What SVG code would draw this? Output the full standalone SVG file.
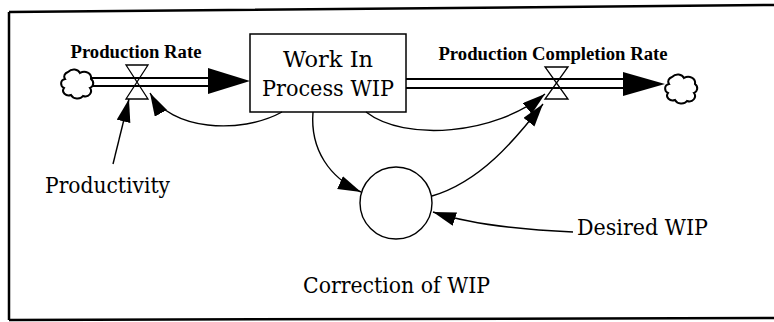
<svg xmlns="http://www.w3.org/2000/svg" width="774" height="322" viewBox="0 0 774 322">
<style>
.frame{fill:none;stroke:#000;stroke-width:2.5}
.stock{fill:#fff;stroke:#000;stroke-width:1.5}
.pipe{fill:none;stroke:#000;stroke-width:1.8}
.valve{fill:none;stroke:#000;stroke-width:1.3;stroke-linejoin:miter}
.cloud{fill:#fff;stroke:#000;stroke-width:2}
.link{fill:none;stroke:#000;stroke-width:1.4}
.aux{fill:#fff;stroke:#000;stroke-width:1.4}
text{fill:#000}
.big{font-family:"DejaVu Serif",serif;font-size:22px;font-weight:normal}
.flowlbl{font-family:"Liberation Serif","Times New Roman",serif;font-size:18.7px;font-weight:bold}
</style>
<defs>
<marker id="ah" markerUnits="userSpaceOnUse" markerWidth="24" markerHeight="16" refX="23" refY="7" orient="auto">
<path d="M0,0 L23,7 L0,14 Z" fill="#000"/>
</marker>
<path id="cloudShape" d="M-9,-11 c4,-4 10,-3 12,1 c5,-3 12,0 11,6 c4,3 2,8 -1,9 c3,4 -1,10 -7,8 c-3,4 -10,3 -12,-1 c-5,2 -10,-3 -7,-7 c-4,-2 -4,-8 1,-9 c-2,-3 0,-6 3,-7z"/>
</defs>
<rect width="774" height="322" fill="#fff"/>
<g id="frame">
<path class="frame" d="M9,12 L774,5 M9,12 L9,320 M9,320 L774,318"/>
</g>
<g id="source-cloud">
<use href="#cloudShape" class="cloud" transform="translate(77,83)"/>
</g>
<g id="sink-cloud">
<use href="#cloudShape" class="cloud" transform="translate(681,88)"/>
</g>
<g id="flows">
<path class="pipe" d="M92,78 H212 M92,86 H212"/>
<path d="M208,68 L250,81 L208,94 Z" fill="#000"/>
<path class="pipe" d="M406,79 H627 M406,88 H627"/>
<path d="M623,72 L665,84 L623,96 Z" fill="#000"/>
</g>
<g id="production-rate">
<path class="valve" d="M126,65 L148,65 L126,99 L148,99 Z"/>
<text class="flowlbl" x="136" y="58" text-anchor="middle">Production Rate</text>
</g>
<g id="production-completion-rate">
<path class="valve" d="M545,67 L568,67 L545,99 L568,99 Z"/>
<text class="flowlbl" x="553" y="60" text-anchor="middle">Production Completion Rate</text>
</g>
<g id="wip">
<rect class="stock" x="250" y="34" width="156" height="78"/>
<text class="big" x="328" y="67" text-anchor="middle" textLength="90" lengthAdjust="spacingAndGlyphs">Work In</text>
<text class="big" x="328" y="96" text-anchor="middle" textLength="132" lengthAdjust="spacingAndGlyphs">Process WIP</text>
</g>
<g id="correction-of-wip">
<circle class="aux" cx="396" cy="203" r="36"/>
<text class="big" x="303" y="293" textLength="187" lengthAdjust="spacingAndGlyphs">Correction of WIP</text>
</g>
<g id="productivity">
<text class="big" x="45" y="193" textLength="125" lengthAdjust="spacingAndGlyphs">Productivity</text>
</g>
<g id="desired-wip">
<text class="big" x="577" y="235" textLength="131" lengthAdjust="spacingAndGlyphs">Desired WIP</text>
</g>
<g id="connectors">
<path class="link" marker-end="url(#ah)" d="M113,164 L129,99"/>
<path class="link" marker-end="url(#ah)" d="M282,112 C240,135 170,130 150,93"/>
<path class="link" marker-end="url(#ah)" d="M313,112 C310,150 330,178 361,192"/>
<path class="link" marker-end="url(#ah)" d="M366,112 C405,142 495,135 545,94"/>
<path class="link" marker-end="url(#ah)" d="M432,196 C480,182 515,140 543,104"/>
<path class="link" marker-end="url(#ah)" d="M573,232 C525,230 470,224 433,212"/>
</g>
</svg>
